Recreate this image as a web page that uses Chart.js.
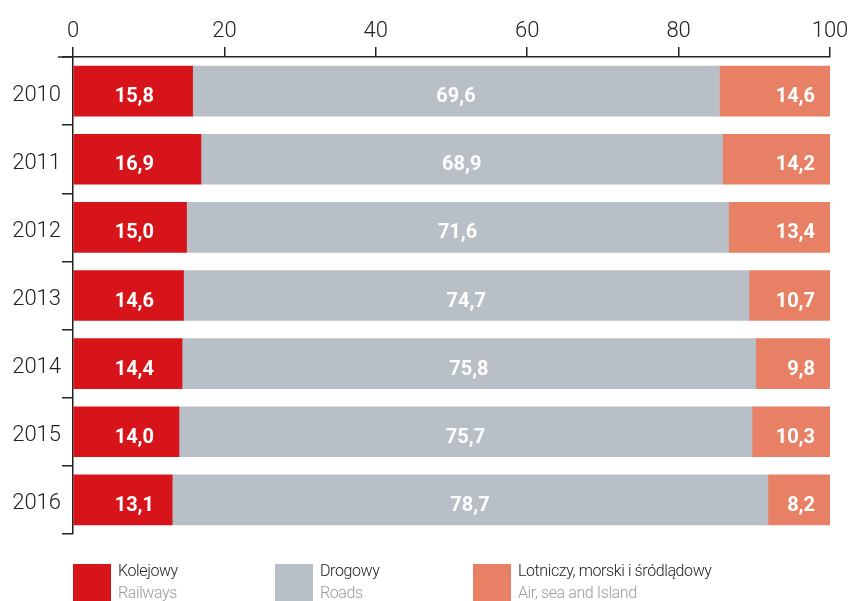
<!DOCTYPE html>
<html>
<head>
<meta charset="utf-8">
<script src="https://cdn.jsdelivr.net/npm/chart.js@4/dist/chart.umd.min.js"></script>
<style>
  html, body { margin:0; padding:0; background:#fff; }
  #wrap { position:relative; width:851px; height:601px; overflow:hidden; }
  canvas { position:absolute; left:0; top:0; }
  .lg { position:absolute; top:564px; font-family: Roboto, sans-serif; }
  .box { position:absolute; top:0; width:38px; height:38px; }
  .t1 { position:absolute; top:-3px; font-size:16px; font-weight:300; color:#222; white-space:nowrap; letter-spacing:-0.4px; }
  .t2 { position:absolute; top:19px; font-size:16px; font-weight:300; color:#9a9a9a; white-space:nowrap; letter-spacing:-0.4px; }
</style>
</head>
<body>
<div id="wrap">
  <canvas id="c" width="851" height="601"></canvas>
  <div id="legend"></div>
</div>
<script>
const years = ['2010','2011','2012','2013','2014','2015','2016'];
const railways = [15.8, 16.9, 15.0, 14.6, 14.4, 14.0, 13.1];
const roads = [69.6, 68.9, 71.6, 74.7, 75.8, 75.7, 78.7];
const airSea = [14.6, 14.2, 13.4, 10.7, 9.8, 10.3, 8.2];
const xTicks = [0, 20, 40, 60, 80, 100];
const seriesNamesPL = ['Kolejowy', 'Drogowy', 'Lotniczy, morski i śródlądowy'];
const seriesNamesEN = ['Railways', 'Roads', 'Air, sea and Island'];
const colors = ['#d7141a', '#b8bfc6', '#e78064'];

// legend (HTML)
const legendX = [73, 275, 473];
const lg = document.getElementById('legend');
seriesNamesPL.forEach((n, i) => {
  const d = document.createElement('div');
  d.className = 'lg';
  d.style.left = legendX[i] + 'px';
  d.innerHTML = '<div class="box" style="left:0;background:' + colors[i] + '"></div>' +
    '<div class="t1" style="left:45px">' + n + '</div>' +
    '<div class="t2" style="left:45px">' + seriesNamesEN[i] + '</div>';
  lg.appendChild(d);
});

const fmt = v => v.toFixed(1).replace('.', ',');

const labelPlugin = {
  id: 'barLabels',
  afterDatasetsDraw(chart) {
    const ctx = chart.ctx;
    const area = chart.chartArea;
    ctx.save();
    ctx.fillStyle = '#fff';
    ctx.font = '700 20px Roboto';
    ctx.textBaseline = 'middle';
    chart.data.datasets.forEach((ds, di) => {
      const meta = chart.getDatasetMeta(di);
      meta.data.forEach((bar, i) => {
        const v = ds.data[i];
        const y = bar.y + 6;
        if (di === 0) {
          ctx.textAlign = 'right';
          ctx.fillText(fmt(v), area.left + 81, y);
        } else if (di === 1) {
          ctx.textAlign = 'center';
          ctx.fillText(fmt(v), (bar.x + bar.base) / 2, y);
        } else {
          ctx.textAlign = 'right';
          ctx.fillText(fmt(v), bar.x - 15, y);
        }
      });
    });
    // extend top axis line to the left
    ctx.strokeStyle = '#222';
    ctx.lineWidth = 1.5;
    ctx.beginPath();
    ctx.moveTo(58, area.top);
    ctx.lineTo(area.left, area.top);
    ctx.stroke();
    ctx.restore();
  }
};

new Chart(document.getElementById('c'), {
  type: 'bar',
  data: {
    labels: years,
    datasets: [
      { label: seriesNamesPL[0], data: railways, backgroundColor: colors[0] },
      { label: seriesNamesPL[1], data: roads, backgroundColor: colors[1] },
      { label: seriesNamesPL[2], data: airSea, backgroundColor: colors[2] }
    ]
  },
  options: {
    indexAxis: 'y',
    responsive: false,
    animation: false,
    devicePixelRatio: 1,
    layout: { padding: { left: 0, right: 21, top: 0, bottom: 67 } },
    datasets: { bar: { barThickness: 50, borderWidth: 0 } },
    plugins: { legend: { display: false }, tooltip: { enabled: false } },
    scales: {
      x: {
        position: 'top',
        stacked: true,
        min: 0, max: 100,
        afterBuildTicks: s => { s.ticks = xTicks.map(v => ({ value: v })); },
        afterFit: s => { s.height = 57; s.paddingLeft = 0; s.paddingRight = 0; },
        ticks: { color: '#222', font: { family: 'Roboto', size: 22, weight: '300' }, padding: 2, maxRotation: 0 },
        grid: { drawOnChartArea: false, drawTicks: true, tickLength: 10, color: '#222', lineWidth: 1.5 },
        border: { color: '#222', width: 1.5 }
      },
      y: {
        stacked: true,
        afterFit: s => { s.width = 73; s.paddingTop = 0; s.paddingBottom = 0; },
        ticks: { color: '#222', font: { family: 'Roboto', size: 22, weight: '300' }, padding: 1, labelOffset: 4 },
        grid: { drawOnChartArea: false, drawTicks: true, tickLength: 11, offset: true, color: '#222', lineWidth: 1.5 },
        border: { color: '#222', width: 1.5 }
      }
    }
  },
  plugins: [labelPlugin]
});
</script>
</body>
</html>
